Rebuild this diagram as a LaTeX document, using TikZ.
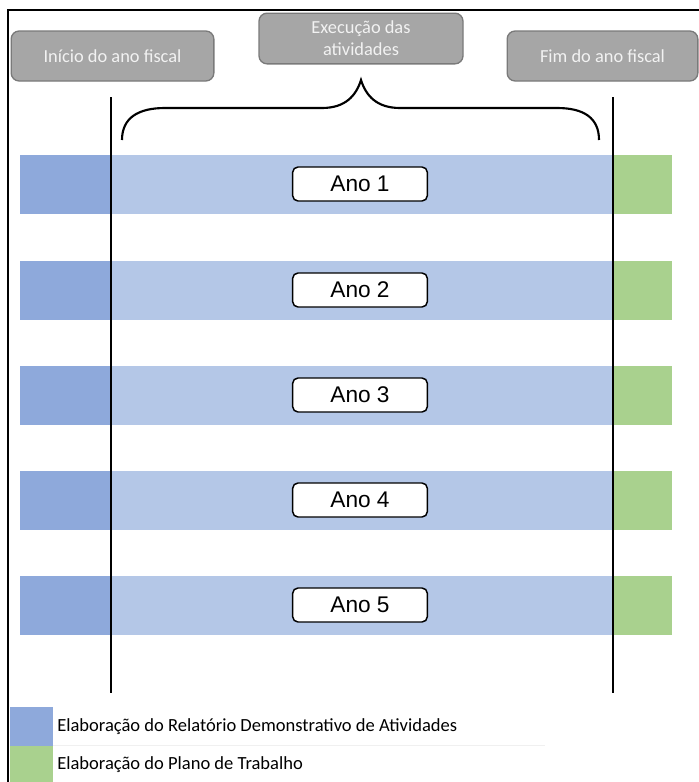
\documentclass[tikz,border=0pt]{standalone}
\usepackage{fontspec}
\setmainfont{Carlito}
\newfontfamily\arialfont{Liberation Sans}
\definecolor{relblue}{HTML}{8EA9DB}
\definecolor{execblue}{HTML}{B4C7E7}
\definecolor{planogreen}{HTML}{A9D18E}
\definecolor{boxgray}{HTML}{A6A6A6}
\definecolor{boxedge}{HTML}{7A7A7A}
\definecolor{boxtext}{HTML}{F2F2F2}
\begin{document}
\begin{tikzpicture}[x=0.75pt,y=-0.75pt,
  phase/.style={draw=boxedge,line width=1pt,fill=boxgray,rounded corners=6pt,
    text=boxtext,font=\fontsize{13.8}{16.5}\selectfont,align=center,inner sep=0pt},
  yearlabel/.style={draw=black,line width=1.1pt,fill=white,rounded corners=4pt,
    font=\arialfont\fontsize{17}{18}\selectfont,minimum width=101pt,minimum height=25.5pt,inner sep=0pt},
  marker/.style={line width=1.1pt},
  legendtext/.style={font=\fontsize{13.9}{16}\selectfont,anchor=west,inner sep=0pt}]
\useasboundingbox (0,0) rectangle (699,782);
% outer frame (top and left edges)
\draw[line width=1.1pt] (8,782) -- (8,10) -- (699,10);

% phase headings
\node[phase,minimum width=152pt,minimum height=37.5pt] (inicio) at (112.5,56) {Início do ano fiscal};
\node[phase,minimum width=153pt,minimum height=38pt] (execucao) at (361,38.5) {Execução das\\atividades};
\node[phase,minimum width=143pt,minimum height=37.5pt] (fim) at (602.5,56) {Fim do ano fiscal};

% yearly bars
\foreach \y/\n in {155/1,261/2,366/3,471/4,576/5}{
  \fill[relblue] (20,\y) rectangle (111,\y+59);
  \fill[execblue] (111,\y) rectangle (613,\y+59);
  \fill[planogreen] (613,\y) rectangle (672,\y+59);
  \node[yearlabel] (ano\n) at (360,\y+29) {Ano \n};
}

% start and end of fiscal year markers
\coordinate (startTop) at (111,97);
\coordinate (startBot) at (111,693);
\coordinate (endTop) at (613,97);
\coordinate (endBot) at (613,693);
\draw[marker] (startTop) -- (startBot);
\draw[marker] (endTop) -- (endBot);

% brace spanning the execution period
\coordinate (braceL) at (122,140);
\coordinate (braceTip) at (361,80);
\coordinate (braceR) at (599,140);
\draw[line width=1.6pt]
  (braceL) .. controls (122,118) and (138,108) .. (165,108)
  -- (322,108) .. controls (345,108) and (356,96) .. (braceTip)
  .. controls (366,96) and (377,108) .. (400,108)
  -- (557,108) .. controls (584,108) and (599,118) .. (braceR);

% legend
\fill[relblue] (10,707) rectangle (53,746);
\fill[planogreen] (10,746) rectangle (53,782);
\draw[black!6,line width=0.6pt] (53,745.5) -- (545,745.5);
\node[legendtext] (legRel) at (57,727) {Elaboração do Relatório Demonstrativo de Atividades};
\node[legendtext] (legPlano) at (57,765) {Elaboração do Plano de Trabalho};
\end{tikzpicture}
\end{document}
